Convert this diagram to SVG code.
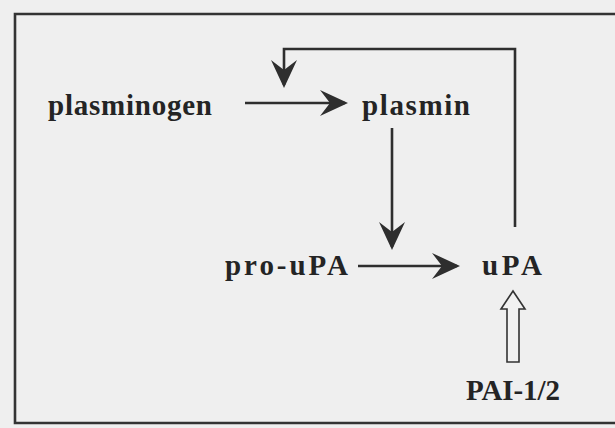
<svg xmlns="http://www.w3.org/2000/svg" width="615" height="428" viewBox="0 0 615 428">
  <style>
    .lbl { font-family: "Liberation Serif", "Times New Roman", serif; font-weight: bold; font-size: 29px; fill: #242424; }
    .ln { stroke: #2e2e2e; stroke-width: 2.6; fill: none; }
    .frame { stroke: #333333; stroke-width: 2.6; fill: none; }
    .hollow { stroke: #333333; stroke-width: 1.6; fill: #f2f2f2; stroke-linejoin: miter; }
  </style>
  <defs>
    <marker id="ah" viewBox="-30 -14 32 28" refX="-3" refY="0" markerWidth="32" markerHeight="28" markerUnits="userSpaceOnUse" orient="auto">
      <path d="M0,0 L-28,-13 L-18,0 L-28,13 Z" fill="#2e2e2e"/>
    </marker>
  </defs>
  <rect x="0" y="0" width="615" height="428" fill="#efefef"/>
  <g id="frame">
    <polyline class="frame" points="615,14 15,14 15,423 615,423"/>
  </g>
  <g id="connectors">
    <line class="ln" x1="245" y1="103" x2="345" y2="103" marker-end="url(#ah)"/>
    <polyline class="ln" points="515,227 515,49 284,49 284,85" marker-end="url(#ah)"/>
    <line class="ln" x1="392" y1="128" x2="392" y2="247" marker-end="url(#ah)"/>
    <line class="ln" x1="358" y1="266" x2="457" y2="266" marker-end="url(#ah)"/>
    <polygon class="hollow" points="513,291 525,309 519,309 519,362 507,362 507,309 501,309"/>
  </g>
  <g id="node-plasminogen"><text class="lbl" x="48" y="115" textLength="164" lengthAdjust="spacing">plasminogen</text></g>
  <g id="node-plasmin"><text class="lbl" x="362" y="115" textLength="108" lengthAdjust="spacing">plasmin</text></g>
  <g id="node-pro-uPA"><text class="lbl" x="225" y="275" textLength="123" lengthAdjust="spacing">pro-uPA</text></g>
  <g id="node-uPA"><text class="lbl" x="482" y="275" textLength="60" lengthAdjust="spacing">uPA</text></g>
  <g id="node-PAI"><text class="lbl" x="466" y="400" textLength="94" lengthAdjust="spacing">PAI-1/2</text></g>
</svg>
